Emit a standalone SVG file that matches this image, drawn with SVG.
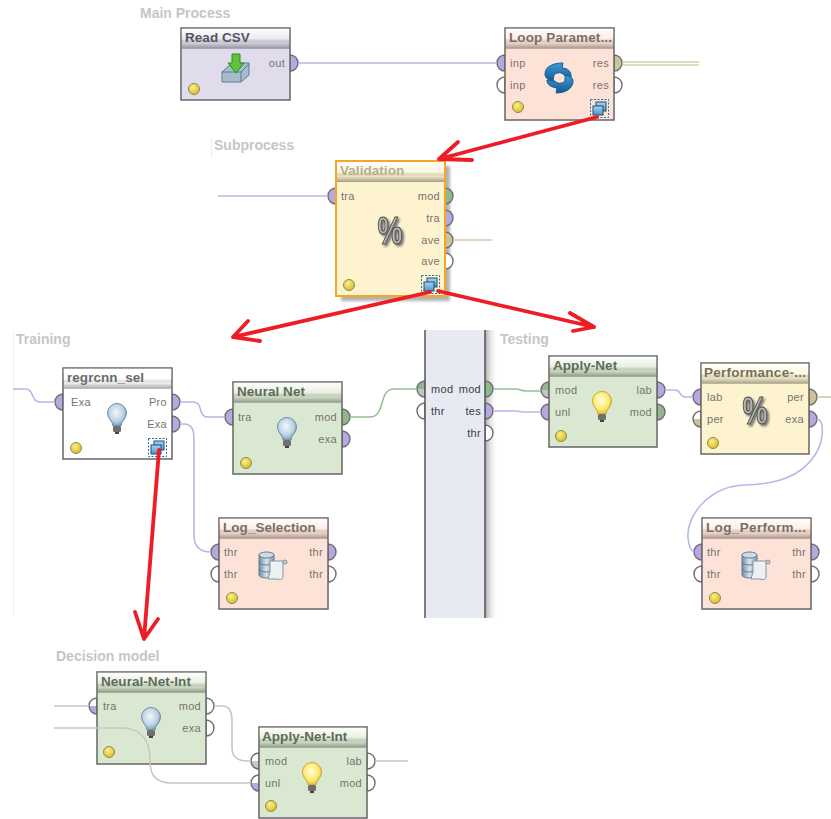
<svg xmlns="http://www.w3.org/2000/svg" width="831" height="819" viewBox="0 0 831 819">
<style>
text{font-family:"Liberation Sans",Arial,sans-serif}
.sec{font-size:14px;font-weight:bold;fill:#c6c6c6}
.title{font-size:13.5px;font-weight:bold;letter-spacing:.05px}
.lab{font-size:11px;fill:#77736f;letter-spacing:.3px}
.labd{font-size:11px;fill:#3c3c44;letter-spacing:.3px}
.end{text-anchor:end}
.box{stroke:#666;stroke-width:1.5}
.head{fill:url(#hd)}
.p{stroke:#6e6e6e;stroke-width:1.4}
.pu{fill:#b5a9e2}.gr{fill:#8fb98c}.kh{fill:#cbc69c}.wh{fill:#fff}.ta{fill:#cdc29c}
.gt{fill:url(#gt)}.wp{fill:url(#wp)}.wg{fill:url(#wg)}.wt{fill:url(#wt)}
.w{fill:none;stroke-width:1.6}
.wpu{stroke:#bdb4ea}.wgr{stroke:#97c096}.wta{stroke:#d2caa6}.wgy{stroke:#c6c6c6}
.red{fill:none;stroke:#ee1c25;stroke-width:3.8;stroke-linecap:round;stroke-linejoin:round}
</style>
<defs>
<filter id="soft" x="-20%" y="-20%" width="140%" height="140%"><feGaussianBlur stdDeviation="1.6"/></filter>
<filter id="ds" x="-30%" y="-30%" width="170%" height="170%"><feDropShadow dx="2" dy="2" stdDeviation=".8" flood-color="#555" flood-opacity=".8"/></filter>
<linearGradient id="hd" x1="0" y1="0" x2="0" y2="1"><stop offset="0" stop-color="#fff" stop-opacity=".95"/><stop offset=".5" stop-color="#fff" stop-opacity=".35"/><stop offset=".72" stop-color="#000" stop-opacity=".07"/><stop offset="1" stop-color="#000" stop-opacity=".35"/></linearGradient>
<linearGradient id="gt" x1="0" y1="0" x2="0" y2="1"><stop offset=".5" stop-color="#8fb98c"/><stop offset=".5" stop-color="#c4c4c4"/></linearGradient>
<linearGradient id="wp" x1="0" y1="0" x2="0" y2="1"><stop offset=".5" stop-color="#fff"/><stop offset=".5" stop-color="#b5a9e2"/></linearGradient>
<linearGradient id="wg" x1="0" y1="0" x2="0" y2="1"><stop offset=".5" stop-color="#fff"/><stop offset=".5" stop-color="#c8c8c8"/></linearGradient>
<linearGradient id="wt" x1="0" y1="0" x2="0" y2="1"><stop offset=".5" stop-color="#fff"/><stop offset=".5" stop-color="#cdc29c"/></linearGradient>
<linearGradient id="sh" x1="0" y1="0" x2="1" y2="0"><stop offset="0" stop-color="#aaa"/><stop offset="1" stop-color="#fff" stop-opacity="0"/></linearGradient>
<radialGradient id="ledg" cx=".4" cy=".35" r=".7"><stop offset="0" stop-color="#fdf08a"/><stop offset="1" stop-color="#d8b920"/></radialGradient>
<radialGradient id="by" cx=".45" cy=".4" r=".65"><stop offset="0" stop-color="#fffde0"/><stop offset=".6" stop-color="#fdec70"/><stop offset="1" stop-color="#d9b52a"/></radialGradient>
<radialGradient id="bb" cx=".45" cy=".4" r=".65"><stop offset="0" stop-color="#f2f7fb"/><stop offset=".6" stop-color="#bcd3e4"/><stop offset="1" stop-color="#6f8fab"/></radialGradient>
<linearGradient id="db" x1="0" y1="0" x2="1" y2="0"><stop offset="0" stop-color="#6f8ea6"/><stop offset=".5" stop-color="#d8e4ec"/><stop offset="1" stop-color="#7d98ad"/></linearGradient>
<linearGradient id="lp" x1="0" y1="0" x2="0" y2="1"><stop offset="0" stop-color="#3f9ad2"/><stop offset="1" stop-color="#125a94"/></linearGradient>
<linearGradient id="sb" x1="0" y1="0" x2="0" y2="1"><stop offset="0" stop-color="#a9d6f2"/><stop offset="1" stop-color="#4b94c8"/></linearGradient>
<path id="pr" d="M0,-8A8,8 0 0 1 0,8Z"/>
<path id="pl" d="M0,-8A8,8 0 0 0 0,8Z"/>
<circle id="led" r="5.5" fill="url(#ledg)" stroke="#8d8a55" stroke-width="1"/>
<g id="bulbY"><path d="M-4,8C-4,3 -9.5,1 -9.5,-5A9.5,9.5 0 0 1 9.5,-5C9.5,1 4,3 4,8Z" fill="url(#by)" stroke="#c9a52c"/><rect x="-4" y="8" width="8" height="6" rx="1.500" fill="#6e6e6e"/><path d="M-2,14H2V16H-2Z" fill="#444"/></g>
<g id="bulbB"><path d="M-4,8C-4,3 -9.5,1 -9.5,-5A9.5,9.5 0 0 1 9.5,-5C9.5,1 4,3 4,8Z" fill="url(#bb)" stroke="#6d8ca8"/><rect x="-4" y="8" width="8" height="6" rx="1.500" fill="#6e6e6e"/><path d="M-2,14H2V16H-2Z" fill="#444"/></g>
<g id="dbi"><path d="M-13,-12V8A7.500,3 0 0 0 2,8V-12Z" fill="url(#db)" stroke="#5f7c94"/><ellipse cx="-5.500" cy="-12" rx="7.500" ry="3" fill="#cfdce6" stroke="#5f7c94"/><path d="M-13,-5A7.500,3 0 0 0 2,-5M-13,2A7.500,3 0 0 0 2,2" fill="none" stroke="#5f7c94"/><path d="M-2,-6H11V9C11,13 8,13 5,12H-4L-2,5Z" fill="#eef1f3" stroke="#8793a0"/><circle cx="13" cy="-5" r="2" fill="#c4cdd3" stroke="#8793a0"/></g>
<g id="sub"><rect x=".5" y=".5" width="18" height="18" fill="none" stroke="#2f6f9f" stroke-dasharray="2 1.5"/><rect x="6" y="3" width="10" height="9" fill="url(#sb)" stroke="#1f4f78"/><rect x="3" y="7" width="10" height="9" fill="url(#sb)" stroke="#1f4f78"/></g>
<g id="pct" filter="url(#ds)"><text transform="scale(.88,1.2)" x="0" y="9" font-size="32" font-weight="bold" text-anchor="middle" fill="#b4b4b4" stroke="#4c4c4c" stroke-width=".9">%</text></g>
</defs>

<g id="frames">
<rect x="13" y="330" width="1" height="285" fill="#f0f0f0"/>
<rect x="211" y="138" width="1" height="20" fill="#ececec"/>
</g>

<g id="section-labels">
<text class="sec" x="140" y="18">Main Process</text>
<text class="sec" x="214" y="150">Subprocess</text>
<text class="sec" x="16" y="344">Training</text>
<text class="sec" x="500" y="344">Testing</text>
<text class="sec" x="56" y="661">Decision model</text>
</g>

<g id="panel">
<rect x="485" y="330" width="13" height="288" fill="url(#sh)"/>
<use href="#pl" class="p gt" x="425" y="389"/><use href="#pl" class="p wh" x="425" y="411"/>
<use href="#pr" class="p gr" x="485" y="389"/><use href="#pr" class="p pu" x="485" y="411"/><use href="#pr" class="p wh" x="485" y="433"/>
<rect x="425" y="330" width="60" height="288" fill="#e8eaf3"/>
<path d="M425,330V618M485,330V618" stroke="#555" stroke-width="1.5" fill="none"/>
<text class="labd" x="431" y="393">mod</text><text class="labd" x="431" y="415">thr</text>
<text class="labd end" x="481" y="393">mod</text><text class="labd end" x="481" y="415">tes</text><text class="labd end" x="481" y="437">thr</text>
</g>

<g id="read-csv" transform="translate(181,28)">
<use href="#pr" class="p pu" x="109" y="35"/>
<rect class="box" width="109" height="72" fill="#e0dcec"/><rect class="head" x=".75" y=".75" width="107.500" height="20"/>
<text class="title" x="4" y="14" fill="#55555f">Read CSV</text>
<text class="lab end" x="104" y="39">out</text>
<g transform="translate(54,40)"><path d="M-13,4L-3,-5H14V7L6,14H-13Z" fill="#a6bccb" stroke="#5e7d94"/><path d="M-13,4H6V14M6,4L14,-4" fill="none" stroke="#5e7d94"/><path d="M-3,-14H5V-5H9L1,5L-7,-5H-3Z" fill="#5fc23c" stroke="#2f8a22"/></g>
<use href="#led" x="13" y="61"/>
</g>

<g id="loop-parameters" transform="translate(505,28)">
<use href="#pl" class="p pu" x="0" y="35"/><use href="#pl" class="p wh" x="0" y="57"/>
<use href="#pr" class="p kh" x="109" y="35"/><use href="#pr" class="p wh" x="109" y="57"/>
<rect class="box" width="109" height="92" fill="#fde3d7"/><rect class="head" x=".75" y=".75" width="107.500" height="20"/>
<text class="title" x="4" y="14" fill="#7b6d66" textLength="103">Loop Paramet...</text>
<text class="lab" x="5" y="39">inp</text><text class="lab" x="5" y="61">inp</text>
<text class="lab end" x="104" y="39">res</text><text class="lab end" x="104" y="61">res</text>
<g transform="translate(54,50)"><path d="M-14,-4C-14,-12 -5,-15 4,-15L3,-10C9,-10 13,-6 12,0L5,-3C3,-6 -2,-6 -5,-3L-6,3C-11,2 -14,0 -14,-4Z" fill="url(#lp)" stroke="#155d96"/><path d="M14,3C14,11 6,15 -3,15L-2,10C-8,9 -12,7 -12,2L-4,3C-2,6 3,6 6,3L6,-3C11,-2 14,0 14,3Z" fill="url(#lp)" stroke="#155d96"/></g>
<use href="#led" x="13" y="79"/>
<use href="#sub" x="85" y="71"/>
</g>

<g id="validation" transform="translate(336,161)">
<rect x="5" y="5" width="109" height="135" fill="#999" opacity=".75" filter="url(#soft)"/>
<use href="#pl" class="p pu" x="0" y="35"/>
<use href="#pr" class="p gr" x="109" y="35"/><use href="#pr" class="p pu" x="109" y="57"/><use href="#pr" class="p ta" x="109" y="79"/><use href="#pr" class="p wh" x="109" y="100"/>
<rect width="109" height="135" fill="#fdf4cf" stroke="#f5a623" stroke-width="2"/><rect class="head" x="1" y="1" width="107" height="20"/>
<text class="title" x="4" y="14" fill="#b5ad8c">Validation</text>
<text class="lab" x="5" y="39">tra</text>
<text class="lab end" x="104" y="39">mod</text><text class="lab end" x="104" y="61">tra</text><text class="lab end" x="104" y="83">ave</text><text class="lab end" x="104" y="104">ave</text>
<use href="#pct" x="54" y="72"/>
<use href="#led" x="13" y="124"/>
<use href="#sub" x="85" y="114"/>
</g>

<g id="regrcnn-sel" transform="translate(63,368)">
<use href="#pl" class="p pu" x="0" y="34"/>
<use href="#pr" class="p pu" x="109" y="34"/><use href="#pr" class="p pu" x="109" y="56"/>
<rect class="box" width="109" height="91" fill="#fff"/><rect class="head" x=".75" y=".75" width="107.500" height="20"/>
<text class="title" x="4" y="14" fill="#6b6b6b">regrcnn_sel</text>
<text class="lab" x="8" y="38">Exa</text>
<text class="lab end" x="104" y="38">Pro</text><text class="lab end" x="104" y="60">Exa</text>
<use href="#bulbB" x="54" y="50"/>
<use href="#led" x="13" y="80"/>
<use href="#sub" x="85" y="70"/>
</g>

<g id="neural-net" transform="translate(233,382)">
<use href="#pl" class="p pu" x="0" y="35"/>
<use href="#pr" class="p gr" x="109" y="35"/><use href="#pr" class="p pu" x="109" y="57"/>
<rect class="box" width="109" height="92" fill="#dbe8d1"/><rect class="head" x=".75" y=".75" width="107.500" height="20"/>
<text class="title" x="4" y="14" fill="#5d6b58">Neural Net</text>
<text class="lab" x="5" y="39">tra</text>
<text class="lab end" x="104" y="39">mod</text><text class="lab end" x="104" y="61">exa</text>
<use href="#bulbB" x="54" y="50"/>
<use href="#led" x="13" y="81"/>
</g>

<g id="log-selection" transform="translate(219,518)">
<use href="#pl" class="p pu" x="0" y="34"/><use href="#pl" class="p wh" x="0" y="56"/>
<use href="#pr" class="p pu" x="109" y="34"/><use href="#pr" class="p wh" x="109" y="56"/>
<rect class="box" width="109" height="91" fill="#fde3d7"/><rect class="head" x=".75" y=".75" width="107.500" height="20"/>
<text class="title" x="4" y="14" fill="#7b6d66">Log_Selection</text>
<text class="lab" x="5" y="38">thr</text><text class="lab" x="5" y="60">thr</text>
<text class="lab end" x="104" y="38">thr</text><text class="lab end" x="104" y="60">thr</text>
<use href="#dbi" x="53" y="49"/>
<use href="#led" x="13" y="80"/>
</g>

<g id="apply-net" transform="translate(549,356)">
<use href="#pl" class="p gt" x="0" y="34"/><use href="#pl" class="p pu" x="0" y="56"/>
<use href="#pr" class="p pu" x="108" y="34"/><use href="#pr" class="p gr" x="108" y="56"/>
<rect class="box" width="108" height="91" fill="#dbe8d1"/><rect class="head" x=".75" y=".75" width="106.500" height="20"/>
<text class="title" x="4" y="14" fill="#5d6b58">Apply-Net</text>
<text class="lab" x="6" y="38">mod</text><text class="lab" x="6" y="60">unl</text>
<text class="lab end" x="103" y="38">lab</text><text class="lab end" x="103" y="60">mod</text>
<use href="#bulbY" x="53" y="50"/>
<use href="#led" x="12" y="80"/>
</g>

<g id="performance" transform="translate(701,363)">
<use href="#pl" class="p pu" x="0" y="34"/><use href="#pl" class="p wt" x="0" y="56"/>
<use href="#pr" class="p ta" x="108" y="34"/><use href="#pr" class="p pu" x="108" y="56"/>
<rect class="box" width="108" height="91" fill="#fdf4cf"/><rect class="head" x=".75" y=".75" width="106.500" height="20"/>
<text class="title" x="3" y="14" fill="#76705a" textLength="102">Performance-...</text>
<text class="lab" x="6" y="38">lab</text><text class="lab" x="6" y="60">per</text>
<text class="lab end" x="103" y="38">per</text><text class="lab end" x="103" y="60">exa</text>
<use href="#pct" x="54" y="50"/>
<use href="#led" x="12" y="80"/>
</g>

<g id="log-performance" transform="translate(702,518)">
<use href="#pl" class="p pu" x="0" y="34"/><use href="#pl" class="p wh" x="0" y="56"/>
<use href="#pr" class="p pu" x="109" y="34"/><use href="#pr" class="p wh" x="109" y="56"/>
<rect class="box" width="109" height="91" fill="#fde3d7"/><rect class="head" x=".75" y=".75" width="107.500" height="20"/>
<text class="title" x="4" y="14" fill="#7b6d66" textLength="100">Log_Perform...</text>
<text class="lab" x="5" y="38">thr</text><text class="lab" x="5" y="60">thr</text>
<text class="lab end" x="104" y="38">thr</text><text class="lab end" x="104" y="60">thr</text>
<use href="#dbi" x="53" y="49"/>
<use href="#led" x="13" y="80"/>
</g>

<g id="neural-net-int" transform="translate(97,672)">
<use href="#pl" class="p wp" x="0" y="34"/>
<use href="#pr" class="p wh" x="109" y="34"/><use href="#pr" class="p wh" x="109" y="56"/>
<rect class="box" width="109" height="92" fill="#dbe8d1"/><rect class="head" x=".75" y=".75" width="107.500" height="20"/>
<text class="title" x="4" y="14" fill="#5d6b58">Neural-Net-Int</text>
<text class="lab" x="6" y="38">tra</text>
<text class="lab end" x="104" y="38">mod</text><text class="lab end" x="104" y="60">exa</text>
<use href="#bulbB" x="54" y="50"/>
<use href="#led" x="12" y="80"/>
</g>

<g id="apply-net-int" transform="translate(259,727)">
<use href="#pl" class="p wg" x="0" y="34"/><use href="#pl" class="p wp" x="0" y="56"/>
<use href="#pr" class="p wh" x="108" y="34"/><use href="#pr" class="p wh" x="108" y="56"/>
<rect class="box" width="108" height="91" fill="#dbe8d1"/><rect class="head" x=".75" y=".75" width="106.500" height="20"/>
<text class="title" x="3" y="14" fill="#5d6b58">Apply-Net-Int</text>
<text class="lab" x="6" y="38">mod</text><text class="lab" x="6" y="60">unl</text>
<text class="lab end" x="103" y="38">lab</text><text class="lab end" x="103" y="60">mod</text>
<use href="#bulbY" x="53" y="50"/>
<use href="#led" x="12" y="79"/>
</g>

<g id="connectors">
<path class="w wpu" d="M298,63H497"/>
<path d="M622,62H699M622,65H699" fill="none" stroke="#d6d0a4" stroke-width="1.3"/>
<path class="w wpu" d="M218,196H328"/>
<path class="w wta" d="M453,240H492"/>
<path class="w wpu" d="M13,389H26C34,389 31,402 40,402H55"/>
<path class="w wpu" d="M180,402H193C204,402 197,417 208,417H225"/>
<path class="w wpu" d="M180,424H184C192,424 194,430 194,440V535C194,547 200,552 211,552"/>
<path class="w wgr" d="M350,417H370C386,417 378,389 394,389H417"/>
<path class="w wgr" d="M493,389H516C520,389 520,391 526,391H541"/>
<path class="w wpu" d="M493,411H516C520,411 520,412 526,412H541"/>
<path class="w wpu" d="M665,390H675C682,390 678,397 686,397H693"/>
<path class="w wta" d="M817,397H831"/>
<path class="w wpu" d="M817,419C824,420 825,440 815,455C800,478 775,484 745,485C710,486 686,515 688,538C689,546 691,551 694,552"/>
<path class="w wgy" d="M54,706H89"/>
<path class="w wgy" d="M54,728H125C142,730 150,740 150,760C150,775 155,783 172,783H251"/>
<path class="w wgy" d="M214,706H222C230,706 232,712 232,722V748C232,757 238,761 248,761H251"/>
<path class="w wgy" d="M375,761H408"/>
</g>

<g id="annotation-arrows">
<path class="red" d="M597,117L439,159M458,142L439,159L472,160"/>
<path class="red" d="M430,292L233,337M248,321L233,337L260,341"/>
<path class="red" d="M438,291L594,327M570,313L594,327L573,331"/>
<path class="red" d="M159,450L144,639M135,612L144,639L158,619"/>
</g>
</svg>
